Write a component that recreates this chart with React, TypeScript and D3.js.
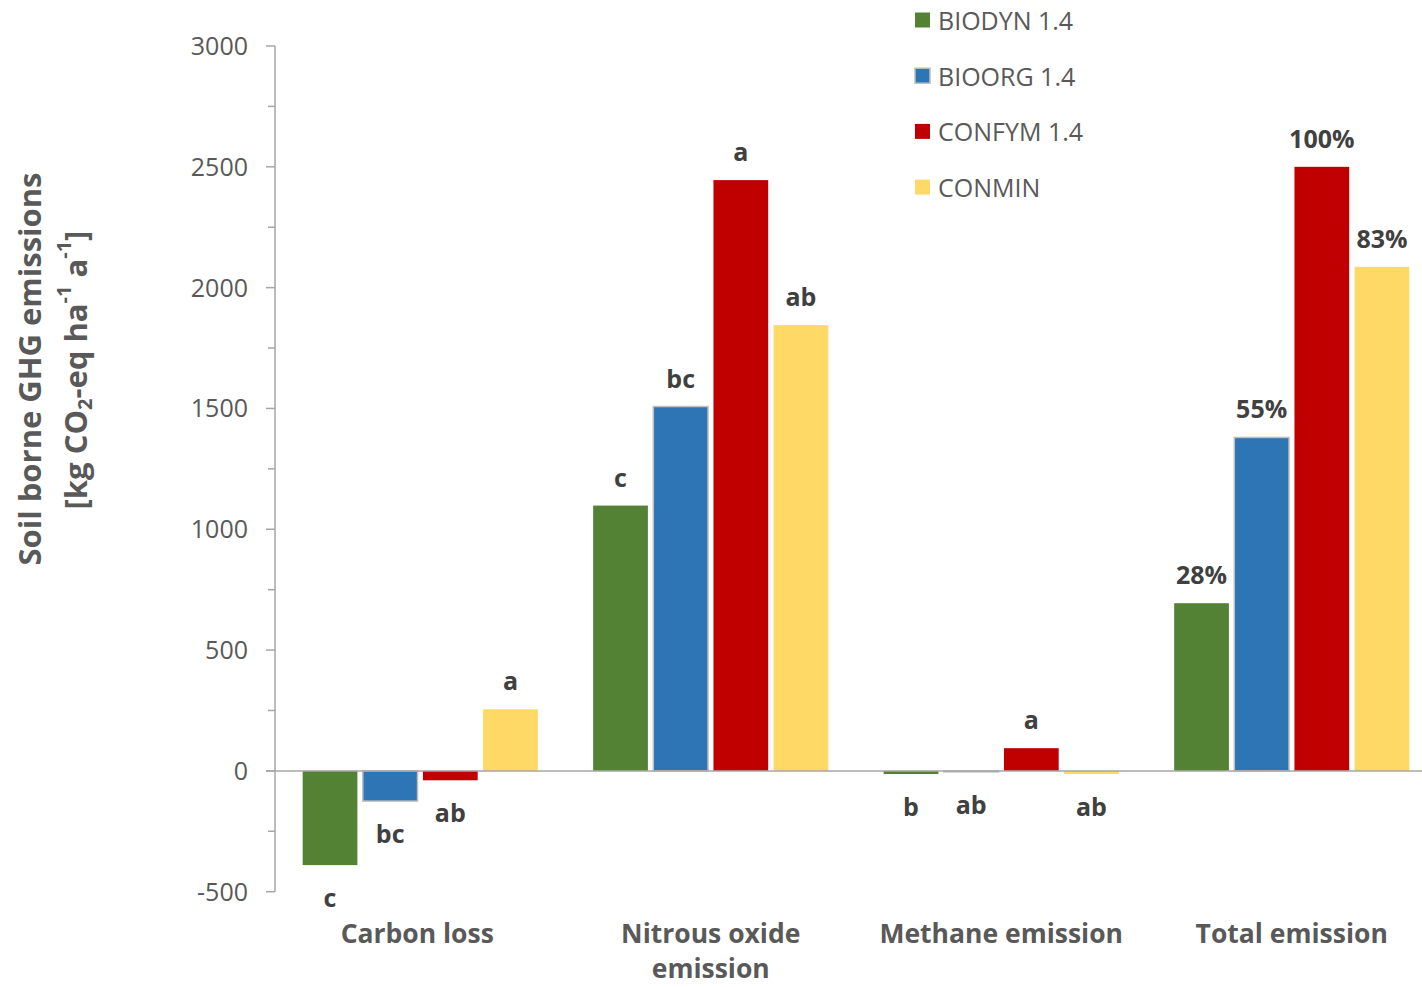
import React from "react";
import * as d3 from "d3";

const categories = ["Carbon loss", "Nitrous oxide emission", "Methane emission", "Total emission"];
const categoryLines = [["Carbon loss"], ["Nitrous oxide", "emission"], ["Methane emission"], ["Total emission"]];
const series = ["BIODYN 1.4", "BIOORG 1.4", "CONFYM 1.4", "CONMIN"];
const colors = ["#548235", "#2E75B6", "#C00000", "#FFD966"];

const biodyn = [-390, 1098, -13, 694];
const bioorg = [-125, 1508, -4, 1380];
const confym = [-39, 2445, 94, 2500];
const conmin = [255, 1845, -13, 2086];
const values = [biodyn, bioorg, confym, conmin];

const lettersBiodyn = ["c", "c", "b", "28%"];
const lettersBioorg = ["bc", "bc", "ab", "55%"];
const lettersConfym = ["ab", "a", "a", "100%"];
const lettersConmin = ["a", "ab", "ab", "83%"];
const letters = [lettersBiodyn, lettersBioorg, lettersConfym, lettersConmin];

const yTicks = [-500, 0, 500, 1000, 1500, 2000, 2500, 3000];
const yMinorTicks = [-250, 250, 750, 1250, 1750, 2250, 2750];

const FONT = "'Open Sans', 'DejaVu Sans', sans-serif";

export default function App() {
  const W = 1422, H = 987;
  const axisX = 275;
  const y = d3.scaleLinear().domain([-500, 3000]).range([891.7, 46]);
  const x0 = d3.scaleBand().domain(categories).range([axisX, axisX + 4 * 290.5]).padding(0);
  const x1 = d3.scaleBand().domain(series).range([0, x0.bandwidth()]).paddingInner(0.09).paddingOuter(0.46);
  const labelOffset = [-3, 0, 0, 0];

  return (
    <svg width={W} height={H} style={{ position: "absolute", left: 0, top: 0, background: "#fff" }} fontFamily={FONT}>
      <rect width={W} height={H} fill="#fff" />
      {/* axis title */}
      <g transform={`translate(29, 369) rotate(-90)`}>
        <text textAnchor="middle" dominantBaseline="central" fontSize={31} fontWeight="bold" fill="#595959">
          Soil borne GHG emissions
        </text>
      </g>
      <g transform={`translate(75, 370) rotate(-90)`}>
        <text textAnchor="middle" dominantBaseline="central" fontSize={31} fontWeight="bold" fill="#595959">
          [kg CO<tspan fontSize={20} dy={9}>2</tspan>
          <tspan dy={-9}>-eq ha</tspan>
          <tspan fontSize={20} dy={-12}>-1</tspan>
          <tspan dy={12}> a</tspan>
          <tspan fontSize={20} dy={-12}>-1</tspan>
          <tspan dy={12}>]</tspan>
        </text>
      </g>
      {/* y axis */}
      <line x1={axisX} x2={axisX} y1={y(3000)} y2={y(-500)} stroke="#A6A6A6" strokeWidth={1.5} />
      {yTicks.map((t) => (
        <g key={t}>
          <line x1={axisX - 9} x2={axisX} y1={y(t)} y2={y(t)} stroke="#A6A6A6" strokeWidth={1.5} />
          <text x={248} y={y(t) - 1} textAnchor="end" dominantBaseline="central" fontSize={25} fill="#595959">
            {t}
          </text>
        </g>
      ))}
      {yMinorTicks.map((t) => (
        <line key={t} x1={axisX - 7} x2={axisX} y1={y(t)} y2={y(t)} stroke="#A6A6A6" strokeWidth={1.5} />
      ))}
      {/* bars */}
      {categories.map((c, ci) => (
        <g key={c} transform={`translate(${x0(c)},0)`}>
          {series.map((s, si) => {
            const v = values[si][ci];
            const top = y(Math.max(0, v));
            const h = Math.abs(y(v) - y(0));
            return (
              <rect
                key={s}
                x={x1(s)}
                y={top}
                width={x1.bandwidth()}
                height={Math.max(h, 1)}
                fill={colors[si]}
                stroke={si === 1 ? "#BFBFBF" : "none"}
                strokeWidth={si === 1 ? 1.5 : 0}
              />
            );
          })}
        </g>
      ))}
      {/* zero line */}
      <line x1={axisX - 9} x2={W} y1={y(0)} y2={y(0)} stroke="#A6A6A6" strokeWidth={1.5} />
      {/* letters */}
      {categories.map((c, ci) => (
        <g key={c + "l"} transform={`translate(${x0(c)},0)`}>
          {series.map((s, si) => {
            const v = values[si][ci];
            const lbl = letters[si][ci];
            if (!lbl) return null;
            const cx = (x1(s) as number) + x1.bandwidth() / 2;
            const pos = v > 20;
            const cy = pos ? y(v) - 29 : y(Math.min(v, 0)) + 32;
            return (
              <text key={s} x={cx} y={cy} textAnchor="middle" dominantBaseline="central" fontSize={25} fontWeight="bold" fill="#404040">
                {lbl}
              </text>
            );
          })}
        </g>
      ))}
      {/* category labels */}
      {categories.map((c, ci) => {
        const cx = (x0(c) as number) + x0.bandwidth() / 2 + labelOffset[ci];
        return (
          <text key={c + "c"} x={cx} y={933} textAnchor="middle" dominantBaseline="central" fontSize={26.5} fontWeight="bold" fill="#595959">
            {categoryLines[ci].map((ln, li) => (
              <tspan key={li} x={cx} dy={li === 0 ? 0 : 35}>
                {ln}
              </tspan>
            ))}
          </text>
        );
      })}
      {/* legend */}
      {series.map((s, si) => (
        <g key={s + "lg"} transform={`translate(915, ${20 + si * 55.7})`}>
          <rect x={0} y={-7.5} width={15} height={15} fill={colors[si]} stroke={si === 1 ? "#BFBFBF" : "none"} strokeWidth={1.5} />
          <text x={23} y={0} dominantBaseline="central" fontSize={25} fill="#595959">
            {s}
          </text>
        </g>
      ))}
    </svg>
  );
}
